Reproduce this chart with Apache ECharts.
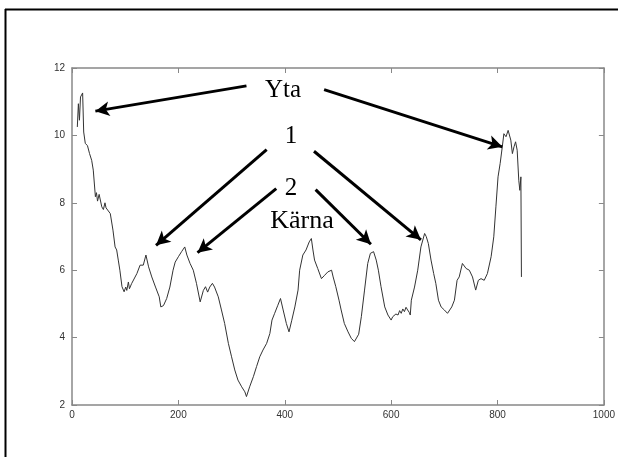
<!DOCTYPE html>
<html>
<head>
<meta charset="utf-8">
<script src="https://cdn.jsdelivr.net/npm/echarts@6/dist/echarts.min.js"></script>
<style>
html,body{margin:0;padding:0;background:#fff;}
#c{width:618px;height:457px;}
</style>
</head>
<body>
<div id="c"></div>
<script>
// Depth position (x) and measured value (y)
var depthX = [10,12,14,16,20,22,25,29,33,37,40,44,46,48,51,56,59,62,64,66,72,77,81,84,87,90,94,98,101,103,106,108,112,115,122,128,131,134,139,144,150,157,164,167,172,178,184,190,194,200,206,212,216,222,228,234,241,247,251,255,259,264,268,275,281,287,294,300,306,312,319,325,328,334,341,347,353,359,366,372,376,381,387,392,397,403,408,413,419,425,428,434,440,446,450,453,456,462,469,475,481,488,491,496,502,506,512,519,525,531,534,539,544,550,556,561,567,572,576,581,588,594,600,603,606,609,613,616,619,622,625,628,631,634,636,638,644,650,656,663,666,670,675,680,684,689,694,700,706,709,714,719,724,728,734,741,747,753,759,764,769,775,781,788,793,797,801,805,809,812,816,820,825,828,831,834,837,840,842,844,845];
var values = [10.25,10.94,10.45,11.14,11.26,10.10,9.76,9.70,9.46,9.26,8.97,8.18,8.30,8.05,8.25,7.88,7.80,8.00,7.85,7.90,7.68,7.19,6.69,6.60,6.30,6.00,5.51,5.36,5.50,5.40,5.65,5.45,5.60,5.65,5.90,6.15,6.20,6.15,6.45,6.10,5.80,5.50,5.21,4.91,4.95,5.16,5.50,6.00,6.24,6.40,6.55,6.69,6.45,6.20,6.00,5.61,5.06,5.40,5.51,5.35,5.50,5.61,5.50,5.21,4.82,4.42,3.83,3.43,3.04,2.74,2.54,2.39,2.25,2.54,2.84,3.14,3.43,3.63,3.83,4.12,4.52,4.72,4.96,5.16,4.82,4.42,4.17,4.50,4.91,5.41,6.00,6.45,6.60,6.84,6.94,6.60,6.30,6.05,5.75,5.85,5.95,6.00,5.80,5.51,5.11,4.82,4.42,4.17,3.98,3.88,3.83,4.10,4.62,5.41,6.20,6.50,6.55,6.30,6.00,5.51,4.91,4.67,4.52,4.62,4.57,4.70,4.67,4.80,4.72,4.85,4.77,4.90,4.82,4.75,4.67,5.11,5.50,6.00,6.69,7.09,7.00,6.79,6.30,5.90,5.61,5.11,4.91,4.82,4.72,4.67,4.91,5.11,5.70,5.80,6.20,6.05,6.00,5.80,5.41,5.70,5.75,5.70,5.90,6.40,6.99,7.88,8.77,9.17,9.66,10.05,9.96,10.15,9.86,9.46,9.66,9.81,9.56,8.67,8.37,8.77,5.80];
var xTicks = [0, 200, 400, 600, 800, 1000];
var yTicks = [2, 4, 6, 8, 10, 12];

// Annotation arrows: [fromX, fromY, toX, toY] in data units
var arrowFrom = [[328, 11.47], [474, 11.36], [366, 9.58], [455, 9.53], [384, 8.42], [458, 8.39]];
var arrowTo   = [[44, 10.72], [809, 9.66], [158, 6.74], [656, 6.90], [236, 6.52], [562, 6.77]];

var lineData = depthX.map(function(x, i){ return [x, values[i]]; });
var arrows = arrowFrom.map(function(f, i){
  return [{coord: f, symbol: 'none'}, {coord: arrowTo[i], symbol: 'arrow'}];
});

var chart = echarts.init(document.getElementById('c'), null, {renderer: 'canvas'});
var axisCol = '#888';
var lblStyle = {color: '#333', fontFamily: 'Liberation Sans, Arial, sans-serif', fontSize: 10,
  formatter: function(v){ return String(v); }};
var serif = 'Liberation Serif, Times New Roman, serif';

chart.setOption({
  animation: false,
  backgroundColor: '#fff',
  grid: {left: 72, right: 13, top: 68, bottom: 52, containLabel: false},
  xAxis: [
    {type: 'value', min: xTicks[0], max: xTicks[xTicks.length-1], interval: 200, position: 'bottom',
     axisLine: {show: true, onZero: false, lineStyle: {color: axisCol, width: 1.5}},
     axisTick: {show: true, inside: true, length: 5, lineStyle: {color: axisCol}},
     axisLabel: Object.assign({margin: 5}, lblStyle),
     splitLine: {show: false}},
    {type: 'value', min: xTicks[0], max: xTicks[xTicks.length-1], interval: 200, position: 'top',
     axisLine: {show: true, onZero: false, lineStyle: {color: axisCol, width: 1.5}},
     axisTick: {show: true, inside: true, length: 5, lineStyle: {color: axisCol}},
     axisLabel: {show: false}, splitLine: {show: false}}
  ],
  yAxis: [
    {type: 'value', min: yTicks[0], max: yTicks[yTicks.length-1], interval: 2, position: 'left',
     axisLine: {show: true, onZero: false, lineStyle: {color: axisCol, width: 1.5}},
     axisTick: {show: true, inside: true, length: 5, lineStyle: {color: axisCol}},
     axisLabel: Object.assign({margin: 7}, lblStyle),
     splitLine: {show: false}},
    {type: 'value', min: yTicks[0], max: yTicks[yTicks.length-1], interval: 2, position: 'right',
     axisLine: {show: true, onZero: false, lineStyle: {color: axisCol, width: 1.5}},
     axisTick: {show: true, inside: true, length: 5, lineStyle: {color: axisCol}},
     axisLabel: {show: false}, splitLine: {show: false}}
  ],
  series: [{
    type: 'line',
    data: lineData,
    showSymbol: false,
    symbol: 'none',
    lineStyle: {color: '#333', width: 1},
    silent: true,
    markLine: {
      silent: true,
      symbolSize: [11, 14],
      label: {show: false},
      lineStyle: {color: '#000', width: 3, type: 'solid'},
      emphasis: {disabled: true},
      data: arrows
    }
  }],
  graphic: [
    {type: 'line', shape: {x1: 5, y1: 9.5, x2: 618, y2: 9.5}, style: {stroke: '#000', lineWidth: 2}},
    {type: 'line', shape: {x1: 5.5, y1: 9, x2: 5.5, y2: 457}, style: {stroke: '#000', lineWidth: 2}},
    {type: 'text', x: 283, y: 90, style: {text: 'Yta', font: '25px ' + serif, fill: '#000', textAlign: 'center', textVerticalAlign: 'middle'}},
    {type: 'text', x: 291, y: 136, style: {text: '1', font: '25px ' + serif, fill: '#000', textAlign: 'center', textVerticalAlign: 'middle'}},
    {type: 'text', x: 291, y: 188, style: {text: '2', font: '25px ' + serif, fill: '#000', textAlign: 'center', textVerticalAlign: 'middle'}},
    {type: 'text', x: 302, y: 221, style: {text: 'Kärna', font: '26px ' + serif, fill: '#000', textAlign: 'center', textVerticalAlign: 'middle'}}
  ]
});
</script>
</body>
</html>
